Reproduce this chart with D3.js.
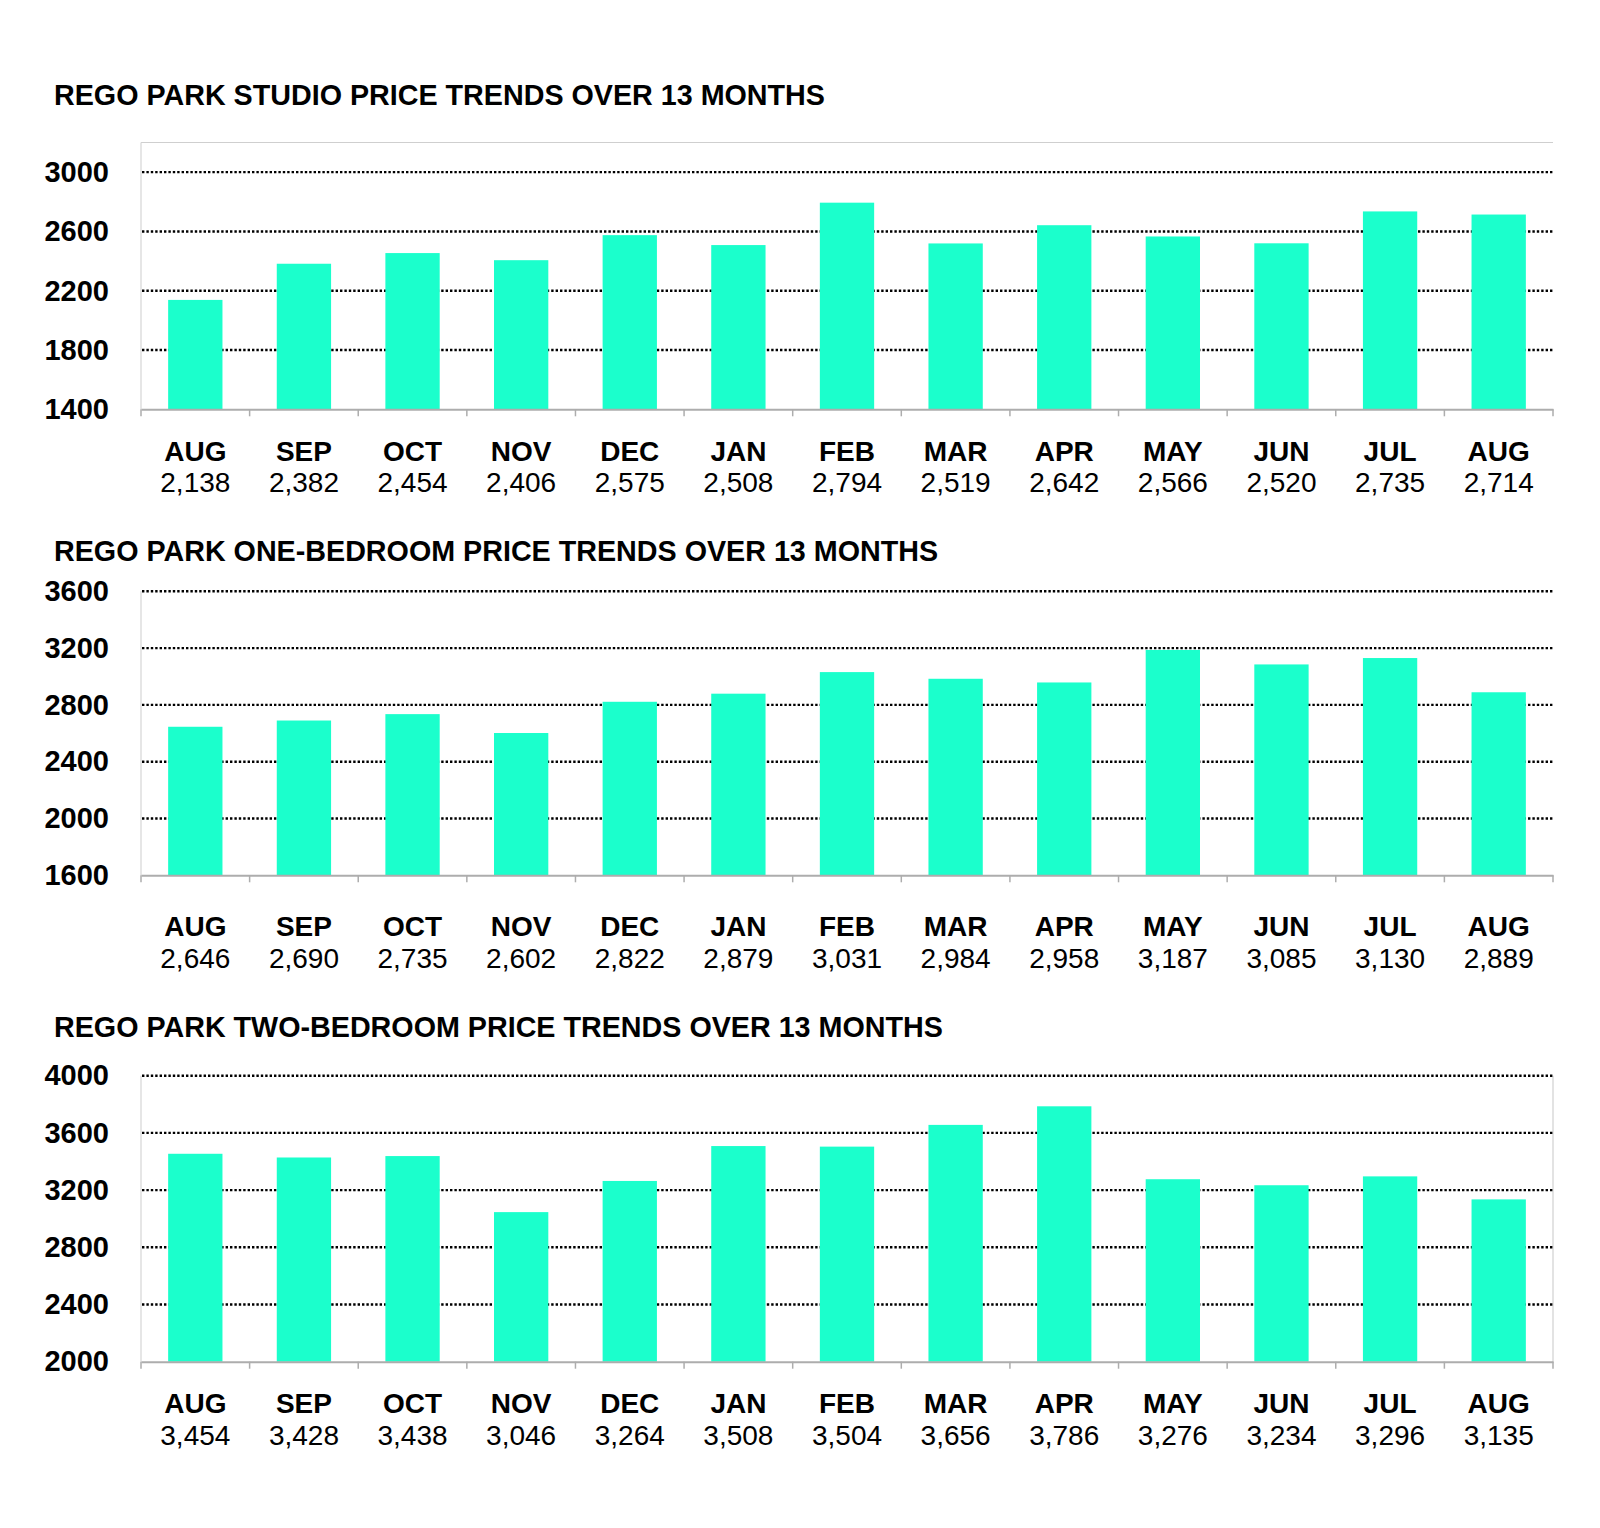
<!DOCTYPE html>
<html><head><meta charset="utf-8">
<script src="https://cdn.jsdelivr.net/npm/d3@7"></script>
<style>
body{margin:0;background:#fff}
text{font-family:"Liberation Sans",Arial,Helvetica,sans-serif}
</style>
</head><body>
<svg id="c" width="1600" height="1528"></svg>
<script>
// ---- data ----
const months = ["AUG","SEP","OCT","NOV","DEC","JAN","FEB","MAR","APR","MAY","JUN","JUL","AUG"];
const studioValues  = [2138,2382,2454,2406,2575,2508,2794,2519,2642,2566,2520,2735,2714];
const oneBedValues  = [2646,2690,2735,2602,2822,2879,3031,2984,2958,3187,3085,3130,2889];
const twoBedValues  = [3454,3428,3438,3046,3264,3508,3504,3656,3786,3276,3234,3296,3135];
const studioTicks = [1400,1800,2200,2600,3000];
const oneBedTicks = [1600,2000,2400,2800,3200,3600];
const twoBedTicks = [2000,2400,2800,3200,3600,4000];
const titles = [
  "REGO PARK STUDIO PRICE TRENDS OVER 13 MONTHS",
  "REGO PARK ONE-BEDROOM PRICE TRENDS OVER 13 MONTHS",
  "REGO PARK TWO-BEDROOM PRICE TRENDS OVER 13 MONTHS"
];

// ---- layout ----
const charts = [
  {title:titles[0], values:studioValues, ticks:studioTicks, domain:[1400,3200], titleY:105, top:142.5, bottom:409.3, labelY:52, valueY:83, topBorder:true, rightBorder:false},
  {title:titles[1], values:oneBedValues, ticks:oneBedTicks, domain:[1600,3600], titleY:560.7, top:591.3, bottom:875.3, labelY:61, valueY:93, topBorder:false, rightBorder:false},
  {title:titles[2], values:twoBedValues, ticks:twoBedTicks, domain:[2000,4000], titleY:1036.7, top:1075.7, bottom:1361.7, labelY:51, valueY:83, topBorder:false, rightBorder:true}
];
const left = 141, right = 1553;
const fmt = d3.format(",");
const svg = d3.select("#c");
svg.append("rect").attr("width",1600).attr("height",1528).attr("fill","#fff");

charts.forEach(c => {
  const g = svg.append("g");
  const x = d3.scaleBand().domain(d3.range(months.length)).range([left,right]).paddingInner(0.5).paddingOuter(0.25);
  const y = d3.scaleLinear().domain(c.domain).range([c.bottom,c.top]);

  // title
  g.append("text").attr("x",54).attr("y",c.titleY)
    .attr("font-size",28.7).attr("font-weight","bold").attr("fill","#000").text(c.title);

  // borders
  if (c.topBorder) g.append("line").attr("x1",left).attr("x2",right).attr("y1",c.top).attr("y2",c.top).attr("stroke","#cfcfcf").attr("stroke-width",1.2);
  g.append("line").attr("x1",left).attr("x2",left).attr("y1",c.top).attr("y2",c.bottom).attr("stroke","#d6d6d6").attr("stroke-width",1.2);
  if (c.rightBorder) g.append("line").attr("x1",right).attr("x2",right).attr("y1",c.top).attr("y2",c.bottom).attr("stroke","#d0d0d0").attr("stroke-width",1.2);

  // gridlines
  g.selectAll(".grid").data(c.ticks.slice(1)).join("line")
    .attr("x1",left+1).attr("x2",right).attr("y1",d=>y(d)).attr("y2",d=>y(d))
    .attr("stroke","#000").attr("stroke-width",2.4).attr("stroke-dasharray","2.4,2");

  // y axis labels
  const ya = g.append("g").attr("transform",`translate(${left},0)`)
    .call(d3.axisLeft(y).tickValues(c.ticks).tickSize(0).tickPadding(32).tickFormat(d3.format("d")));
  ya.select(".domain").remove();
  ya.selectAll("text").attr("font-size",29).attr("font-weight","bold").attr("fill","#000")
    .attr("font-family","'Liberation Sans',Arial,sans-serif");

  // bars
  g.selectAll(".bar").data(c.values).join("rect")
    .attr("x",(d,i)=>x(i)).attr("width",x.bandwidth())
    .attr("y",d=>y(d)).attr("height",d=>y(c.domain[0])-y(d))
    .attr("fill","#1bffcc");

  // x axis
  const xa = g.append("g").attr("transform",`translate(0,${c.bottom})`)
    .call(d3.axisBottom(x).tickSize(0).tickSizeOuter(0).tickPadding(0).tickFormat(i=>months[i]));
  xa.select(".domain").attr("stroke","#adadad").attr("stroke-width",2);
  xa.selectAll(".tick text").attr("dy",null).attr("y",c.labelY).attr("font-size",28).attr("font-weight","bold").attr("fill","#000")
    .attr("font-family","'Liberation Sans',Arial,sans-serif");
  xa.selectAll(".tick").append("text").attr("y",c.valueY).attr("text-anchor","middle")
    .attr("font-size",28).attr("fill","#000").attr("font-family","'Liberation Sans',Arial,sans-serif")
    .text(i=>fmt(c.values[i]));

  // boundary tick marks
  const bounds = d3.range(months.length+1).map(i => left + i*x.step());
  g.selectAll(".btick").data(bounds).join("line")
    .attr("x1",d=>d).attr("x2",d=>d).attr("y1",c.bottom).attr("y2",c.bottom+7)
    .attr("stroke","#adadad").attr("stroke-width",1.5);
});
</script>
</body></html>
